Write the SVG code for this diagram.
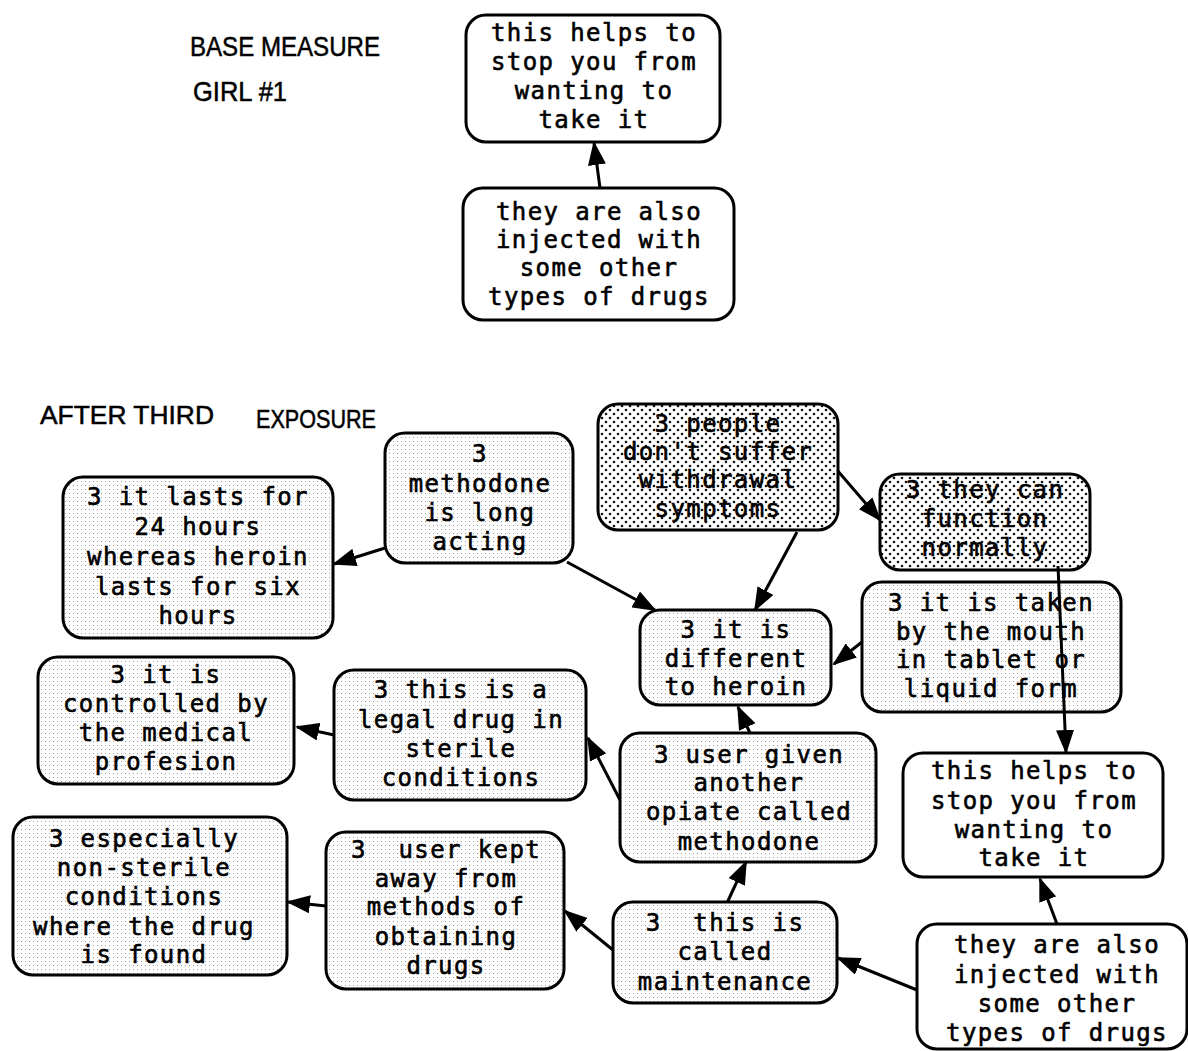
<svg xmlns="http://www.w3.org/2000/svg" width="1188" height="1051" viewBox="0 0 1188 1051">
  <defs>
    <pattern id="lite" width="4" height="4" patternUnits="userSpaceOnUse">
      <rect width="4" height="4" fill="#fff"/>
      <rect x="1" y="1" width="1" height="1" fill="#a0a0a0"/>
    </pattern>
    <pattern id="dark" width="8" height="8" patternUnits="userSpaceOnUse">
      <rect width="8" height="8" fill="#fff"/>
      <circle cx="2" cy="2" r="1.3" fill="#111"/>
      <circle cx="6" cy="6" r="1.3" fill="#111"/>
    </pattern>
    <marker id="arr" markerUnits="userSpaceOnUse" markerWidth="24" markerHeight="18" viewBox="0 0 24 18" refX="22" refY="9" orient="auto">
      <path d="M0,0 L24,9 L0,18 Z" fill="#000"/>
    </marker>
  </defs>
  <style>
    .box { stroke: #000; stroke-width: 3; }
    .plain { fill: #fff; }
    .lt { fill: url(#lite); }
    .dk { fill: url(#dark); }
    .t { font-family: "DejaVu Sans Mono", "Liberation Mono", monospace; font-size: 24px; letter-spacing: 1.4px; fill: #000; stroke: #000; stroke-width: 0.6; text-anchor: middle; }
    .hd { font-family: "Liberation Sans", Arial, sans-serif; fill: #000; stroke: #000; stroke-width: 0.5; }
    .edge { stroke: #000; stroke-width: 3; fill: none; marker-end: url(#arr); }
  </style>
  <rect width="1188" height="1051" fill="#fff"/>

  <!-- headings -->
  <text class="hd" x="190" y="56" font-size="28" textLength="190" lengthAdjust="spacingAndGlyphs">BASE  MEASURE</text>
  <text class="hd" x="193" y="101" font-size="28" textLength="94" lengthAdjust="spacingAndGlyphs">GIRL #1</text>
  <text class="hd" x="40" y="424" font-size="25" textLength="174" lengthAdjust="spacingAndGlyphs">AFTER  THIRD</text>
  <text class="hd" x="256" y="428" font-size="25" textLength="120" lengthAdjust="spacingAndGlyphs">EXPOSURE</text>

  <!-- connectors -->
  <g id="connectors">
    <line class="edge" x1="600" y1="188" x2="594" y2="143"/>
    <line class="edge" x1="385" y1="548" x2="334" y2="564"/>
    <line class="edge" x1="567" y1="562" x2="655" y2="610"/>
    <line class="edge" x1="797" y1="532" x2="755" y2="610"/>
    <line class="edge" x1="837" y1="470" x2="880" y2="520"/>
    <line class="edge" x1="862" y1="642" x2="834" y2="664"/>
    <line class="edge" x1="750" y1="733" x2="738" y2="707"/>
    <line class="edge" x1="620" y1="800" x2="588" y2="738"/>
    <line class="edge" x1="334" y1="735" x2="297" y2="727"/>
    <line class="edge" x1="727" y1="903" x2="746" y2="862"/>
    <line class="edge" x1="613" y1="950" x2="565" y2="911"/>
    <line class="edge" x1="326" y1="906" x2="288" y2="902"/>
    <line class="edge" x1="917" y1="990" x2="838" y2="958"/>
    <line class="edge" x1="1057" y1="924" x2="1040" y2="879"/>
  </g>

  <!-- base measure nodes -->
  <g id="n-helps-top">
    <rect class="box plain" x="466" y="15" width="254" height="127" rx="20"/>
    <text class="t"><tspan x="594" y="41">this helps to</tspan><tspan x="594" y="70">stop you from</tspan><tspan x="594" y="99">wanting to</tspan><tspan x="594" y="128">take it</tspan></text>
  </g>
  <g id="n-injected-top">
    <rect class="box plain" x="463" y="188" width="271" height="132" rx="20"/>
    <text class="t"><tspan x="599" y="220">they are also</tspan><tspan x="599" y="248">injected with</tspan><tspan x="599" y="276">some other</tspan><tspan x="599" y="305">types of drugs</tspan></text>
  </g>

  <!-- after third exposure nodes -->
  <g id="n-long-acting">
    <rect class="box lt" x="385" y="433" width="188" height="130" rx="20"/>
    <text class="t"><tspan x="480" y="462">3</tspan><tspan x="480" y="492">methodone</tspan><tspan x="480" y="521">is long</tspan><tspan x="480" y="550">acting</tspan></text>
  </g>
  <g id="n-24-hours">
    <rect class="box lt" x="63" y="477" width="270" height="161" rx="20"/>
    <text class="t"><tspan x="198" y="505">3 it lasts for</tspan><tspan x="198" y="535">24 hours</tspan><tspan x="198" y="565">whereas heroin</tspan><tspan x="198" y="595">lasts for six</tspan><tspan x="198" y="624">hours</tspan></text>
  </g>
  <g id="n-withdrawal">
    <rect class="box dk" x="598" y="404" width="240" height="126" rx="20"/>
    <text class="t"><tspan x="718" y="432">3 people</tspan><tspan x="718" y="460">don't suffer</tspan><tspan x="718" y="488">withdrawal</tspan><tspan x="718" y="517">symptoms</tspan></text>
  </g>
  <g id="n-function">
    <rect class="box dk" x="880" y="474" width="210" height="96" rx="20"/>
    <text class="t"><tspan x="985" y="498">3 they can</tspan><tspan x="985" y="527">function</tspan><tspan x="985" y="556">normally</tspan></text>
  </g>
  <g id="n-by-mouth">
    <rect class="box lt" x="862" y="582" width="259" height="130" rx="20"/>
    <text class="t"><tspan x="991" y="611">3 it is taken</tspan><tspan x="991" y="640">by the mouth</tspan><tspan x="991" y="668">in tablet or</tspan><tspan x="991" y="697">liquid form</tspan></text>
  </g>
  <g id="n-different">
    <rect class="box lt" x="640" y="610" width="191" height="95" rx="20"/>
    <text class="t"><tspan x="736" y="638">3 it is</tspan><tspan x="736" y="667">different</tspan><tspan x="736" y="695">to heroin</tspan></text>
  </g>
  <g id="n-controlled">
    <rect class="box lt" x="38" y="657" width="256" height="127" rx="20"/>
    <text class="t"><tspan x="166" y="683">3 it is</tspan><tspan x="166" y="712">controlled by</tspan><tspan x="166" y="741">the medical</tspan><tspan x="166" y="770">profesion</tspan></text>
  </g>
  <g id="n-legal">
    <rect class="box lt" x="334" y="670" width="252" height="130" rx="20"/>
    <text class="t"><tspan x="461" y="698">3 this is a</tspan><tspan x="461" y="728">legal drug in</tspan><tspan x="461" y="757">sterile</tspan><tspan x="461" y="786">conditions</tspan></text>
  </g>
  <g id="n-opiate">
    <rect class="box lt" x="620" y="733" width="256" height="129" rx="20"/>
    <text class="t"><tspan x="749" y="763">3 user given</tspan><tspan x="749" y="791">another</tspan><tspan x="749" y="820">opiate called</tspan><tspan x="749" y="850">methodone</tspan></text>
  </g>
  <g id="n-helps-bottom">
    <rect class="box plain" x="903" y="753" width="260" height="124" rx="20"/>
    <text class="t"><tspan x="1034" y="779">this helps to</tspan><tspan x="1034" y="809">stop you from</tspan><tspan x="1034" y="838">wanting to</tspan><tspan x="1034" y="866">take it</tspan></text>
  </g>
  <g id="n-non-sterile">
    <rect class="box lt" x="13" y="817" width="274" height="158" rx="20"/>
    <text class="t"><tspan x="144" y="847">3 especially</tspan><tspan x="144" y="876">non-sterile</tspan><tspan x="144" y="905">conditions</tspan><tspan x="144" y="935">where the drug</tspan><tspan x="144" y="963">is found</tspan></text>
  </g>
  <g id="n-kept-away">
    <rect class="box lt" x="326" y="832" width="238" height="157" rx="20"/>
    <text class="t"><tspan x="446" y="858" xml:space="preserve">3  user kept</tspan><tspan x="446" y="887">away from</tspan><tspan x="446" y="915">methods of</tspan><tspan x="446" y="945">obtaining</tspan><tspan x="446" y="974">drugs</tspan></text>
  </g>
  <g id="n-maintenance">
    <rect class="box lt" x="613" y="902" width="224" height="101" rx="20"/>
    <text class="t"><tspan x="725" y="931" xml:space="preserve">3  this is</tspan><tspan x="725" y="960">called</tspan><tspan x="725" y="990">maintenance</tspan></text>
  </g>
  <g id="n-injected-bottom">
    <rect class="box plain" x="917" y="924" width="270" height="125" rx="20"/>
    <text class="t"><tspan x="1057" y="953">they are also</tspan><tspan x="1057" y="983">injected with</tspan><tspan x="1057" y="1012">some other</tspan><tspan x="1057" y="1041">types of drugs</tspan></text>
  </g>

  <!-- long link drawn over the mouth node -->
  <g id="connectors-over">
    <line class="edge" x1="1058" y1="566" x2="1066" y2="752"/>
  </g>
</svg>
